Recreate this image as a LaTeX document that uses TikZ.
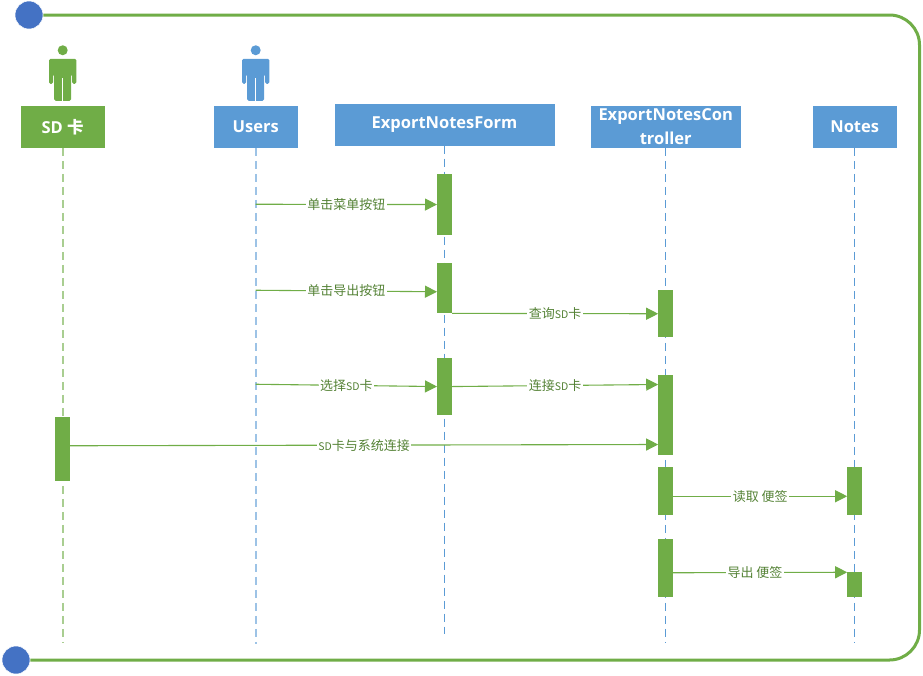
\documentclass[tikz,border=0pt]{standalone}
\usepackage{fontspec}
\setmainfont{Open Sans}
\newfontfamily\cjk{Noto Sans CJK SC}
\usetikzlibrary{arrows.meta, backgrounds, positioning}
\definecolor{barGreen}{HTML}{70AD47}
\definecolor{boxBlue}{HTML}{5B9BD5}
\definecolor{dotBlue}{HTML}{4472C4}
\definecolor{textGreen}{HTML}{548235}
\newcommand{\sdk}{{\fontsize{10.5}{12}\selectfont SD}}

\begin{document}
\begin{tikzpicture}[
            x=1pt,
            y=-1pt,
            node distance=20pt,
            semithick
        ]
        \tikzstyle{head}=[draw=none, text=white, inner sep=0pt, outer sep=0pt, minimum width=84pt, minimum height=41.5pt, align=center, font=\bfseries\fontsize{16.5}{24}\selectfont]
        \tikzstyle{bar}=[fill=barGreen, draw=none, inner sep=0pt, outer sep=0pt, minimum width=15pt]
        \tikzstyle{dot}=[circle, fill=dotBlue, draw=white, line width=0.5pt, inner sep=0pt, minimum size=28pt]
        \tikzstyle{life}=[dash pattern=on 8pt off 5pt, line width=1.3pt]
        \tikzstyle{every edge}=[draw=barGreen, line width=1.1pt, -{Triangle[length=12pt,width=12pt]}]
        \tikzstyle{msg}=[fill=white, text=textGreen, inner sep=1.5pt, font=\cjk\fontsize{13}{15}\selectfont]
        \tikzset{man/.pic={
                \fill (0,-29) circle (5pt);
                \fill[rounded corners=1.5pt] (-13.7,-20.5) -- (13.7,-20.5) -- (13.7,4.5) -- (9.5,4.5) -- (9.5,-5) -- (8.5,-5) -- (8.5,21.5) -- (-8.5,21.5) -- (-8.5,-5) -- (-9.5,-5) -- (-9.5,4.5) -- (-13.7,4.5) -- cycle;
                \draw[white, line width=0.7pt] (0,-1) -- (0,21.5);
            }}

        \useasboundingbox (0,0) rectangle (923,675);

        \node[dot] (Top) at (29,15) {};
        \node[dot] (Bottom) at (16,660) {};
        \draw[barGreen, line width=3pt, rounded corners=30pt] (Top) -- (919.5,15) -- (919.5,660) -- (Bottom);

        \node[head, fill=barGreen] (SD) at (62.7,127) {SD {\cjk\bfseries 卡}};
        \node[head, fill=boxBlue] (Users) [right=109pt of SD] {Users};
        \node[head, fill=boxBlue, minimum width=220pt] (Form) at (444.5,124.9) {ExportNotesForm};
        \node[head, fill=boxBlue, minimum width=150pt] (Ctrl) at (665.7,127) {ExportNotesCon\\troller};
        \node[head, fill=boxBlue] (Notes) [right=72pt of Ctrl] {Notes};

        \path[barGreen] (SD.north) ++(0,-27) pic {man};
        \path[boxBlue] (Users.north) ++(0,-27) pic {man};

        \node[bar, minimum height=61pt] (F1) [below=28.4pt of Form] {};
        \node[bar, minimum height=50pt] (F2) [below=28.3pt of F1] {};
        \node[bar, minimum height=57pt] (F3) [below=44.7pt of F2] {};

        \node[bar, minimum height=47pt] (C1) [below=142.5pt of Ctrl] {};
        \node[bar, minimum height=80.5pt] (C2) [below=37.5pt of C1] {};
        \node[bar, minimum height=48pt] (C3) [below=12pt of C2] {};
        \node[bar, minimum height=58pt] (C4) [below=24pt of C3] {};

        \node[bar, minimum height=48pt] (N1) [below=319.5pt of Notes] {};
        \node[bar, minimum height=25pt] (N2) [below=57pt of N1] {};

        \node[bar, minimum height=64pt] (S1) [below=269.5pt of SD] {};

        \coordinate[below=56.5pt of Users.south] (U1);
        \coordinate[below=142.5pt of Users.south] (U2);
        \coordinate[below=236.5pt of Users.south] (U3);

        \coordinate[below=494.5pt of SD.south] (EndS);
        \coordinate[below=496.5pt of Users.south] (EndU);
        \coordinate[below=488pt of Form.south] (EndF);
        \coordinate[below=495.5pt of Ctrl.south] (EndC);
        \coordinate[below=494.5pt of Notes.south] (EndN);

        \begin{scope}[on background layer]
            \draw[life, barGreen!60, line width=1.6pt] (SD.south) -- (EndS);
            \draw[life, boxBlue!60, line width=1.6pt] (Users.south) -- (EndU);
            \draw[life, boxBlue] (Form.south) -- (EndF);
            \draw[life, boxBlue] (Ctrl.south) -- (EndC);
            \draw[life, boxBlue] (Notes.south) -- (EndN);
        \end{scope}

        \path (U1) edge node [msg] {单击菜单按钮} (F1.west)
        (U2) edge node [msg] {单击导出按钮} ([yshift=-3.4pt]F2.west)
        (F2.south east) edge node [msg] {查询\sdk 卡} (C1.west)
        (U3) edge node [msg] {选择\sdk 卡} (F3.west)
        (F3.east) edge node [msg] {连接\sdk 卡} ([yshift=30.5pt]C2.west)
        ([yshift=3.5pt]S1.east) edge node [msg] {\sdk 卡与系统连接} ([yshift=-29.5pt]C2.west)
        ([yshift=-5pt]C3.east) edge node [msg] {读取 便签} ([yshift=-5pt]N1.west)
        ([yshift=-4.5pt]C4.east) edge node [msg, pos=0.47] {导出 便签} (N2.north west);
    \end{tikzpicture}
\end{document}
